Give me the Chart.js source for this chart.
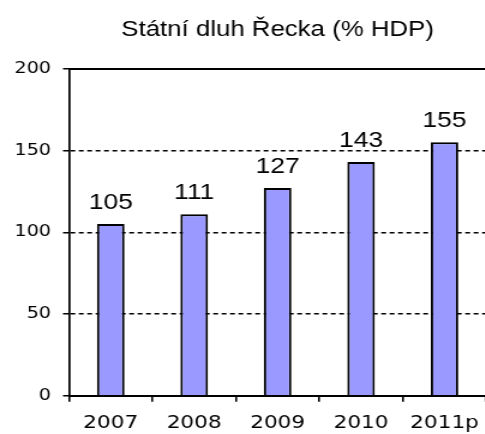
<!DOCTYPE html>
<html>
<head>
<meta charset="utf-8">
<script src="https://cdn.jsdelivr.net/npm/chart.js@4/dist/chart.umd.min.js"></script>
<style>
  html, body { margin: 0; padding: 0; background: #fff; }
  #wrap { width: 485px; height: 434px; overflow: hidden; position: relative; }
  /* the reference is stretched sideways, so the canvas is too */
  #myChart { transform: scaleX(1.2); transform-origin: 0 0; }
</style>
</head>
<body>
<div id="wrap"><canvas id="myChart" width="410" height="434"></canvas></div>
<script>
const years = ['2007', '2008', '2009', '2010', '2011p'];
const debtValues = [105, 111, 127, 143, 155];
const yTicks = [0, 50, 100, 150, 200];

const chartTitle = 'Státní dluh Řecka (% HDP)';

// value labels above the bars
const barLabels = {
    id: 'barLabels',
    afterDatasetsDraw(chart) {
        const ctx = chart.ctx;
        const meta = chart.getDatasetMeta(0);
        ctx.save();
        ctx.font = '22px "Liberation Sans", Arial, sans-serif';
        ctx.fillStyle = '#000';
        ctx.textAlign = 'center';
        ctx.textBaseline = 'alphabetic';
        meta.data.forEach((bar, i) => {
            ctx.fillText(String(debtValues[i]), bar.x, bar.y - 15);
        });
        ctx.restore();
    }
};

const ctx = document.getElementById('myChart').getContext('2d');
new Chart(ctx, {
    type: 'bar',
    data: {
        labels: years,
        datasets: [{
            data: debtValues,
            backgroundColor: '#9999ff',
            borderColor: '#000',
            borderWidth: 2,
            borderSkipped: 'bottom',
            barPercentage: 0.33,
            categoryPercentage: 1
        }]
    },
    options: {
        responsive: false,
        devicePixelRatio: 1,
        animation: false,
        layout: { padding: 0 },
        plugins: {
            legend: { display: false },
            tooltip: { enabled: false },
            title: {
                display: true,
                text: chartTitle,
                fullSize: false,
                color: '#000',
                font: { family: '"Liberation Sans", Arial, sans-serif', size: 21.5, weight: 'normal' },
                padding: { top: 17, bottom: 26 }
            }
        },
        scales: {
            x: {
                type: 'category',
                position: 'bottom',
                afterFit(scale) { scale.height = 38.3; },
                grid: {
                    display: true,
                    drawOnChartArea: false,
                    offset: true,
                    color: '#000',
                    lineWidth: 1.6,
                    tickLength: 6
                },
                border: { display: true, color: '#000', width: 2 },
                ticks: {
                    color: '#000',
                    padding: 10.5,
                    maxRotation: 0,
                    autoSkip: false,
                    font: { family: '"DejaVu Sans", Verdana, sans-serif', size: 18 }
                }
            },
            x2: {
                type: 'category',
                position: 'top',
                labels: years,
                afterFit(scale) { scale.height = 0; },
                grid: { display: false },
                ticks: { display: false },
                border: { display: true, color: '#000', width: 2 }
            },
            y: {
                min: 0,
                max: 200,
                afterFit(scale) { scale.width = 57.5; },
                afterBuildTicks(scale) { scale.ticks = yTicks.map(v => ({ value: v })); },
                grid: {
                    color: '#000',
                    lineWidth: 1.5,
                    tickLength: 5
                },
                border: { display: true, color: '#000', width: 1.7, dash: [4, 3] },
                ticks: {
                    color: '#000',
                    padding: 10,
                    font: { family: '"DejaVu Sans", Verdana, sans-serif', size: 16 }
                }
            }
        }
    },
    plugins: [barLabels]
});
</script>
</body>
</html>
